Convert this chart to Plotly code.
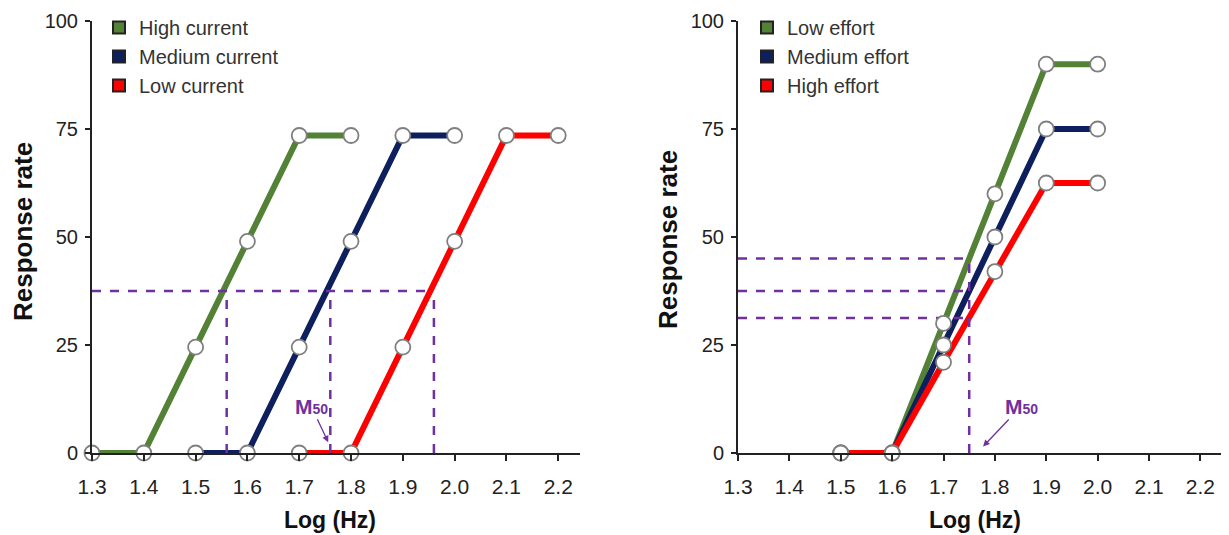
import plotly.graph_objects as go

# ---------------- data ----------------
x_ticks = [1.3, 1.4, 1.5, 1.6, 1.7, 1.8, 1.9, 2.0, 2.1, 2.2]
y_ticks = [0, 25, 50, 75, 100]

left_names = ["High current", "Medium current", "Low current"]
left_x = [
    [1.3, 1.4, 1.5, 1.6, 1.7, 1.8],
    [1.5, 1.6, 1.7, 1.8, 1.9, 2.0],
    [1.7, 1.8, 1.9, 2.0, 2.1, 2.2],
]
left_y = [
    [0, 0, 24.5, 49, 73.5, 73.5],
    [0, 0, 24.5, 49, 73.5, 73.5],
    [0, 0, 24.5, 49, 73.5, 73.5],
]
left_m50_x = [1.56, 1.76, 1.96]
left_m50_y = 37.5

right_names = ["Low effort", "Medium effort", "High effort"]
right_x = [
    [1.5, 1.6, 1.7, 1.8, 1.9, 2.0],
    [1.5, 1.6, 1.7, 1.8, 1.9, 2.0],
    [1.5, 1.6, 1.7, 1.8, 1.9, 2.0],
]
right_y = [
    [0, 0, 30, 60, 90, 90],
    [0, 0, 25, 50, 75, 75],
    [0, 0, 21, 42, 62.5, 62.5],
]
right_m50_x = 1.75
right_m50_y = [45, 37.5, 31.25]

colors = ["#538135", "#0d1f5c", "#ff0000"]
purple = "#7030a0"
axis_col = "#222222"
FONT = "Liberation Sans, Arial, sans-serif"

fig = go.Figure()

def add_panel(xs, ys, names, xa, ya, legend):
    for xv, yv, c in zip(xs, ys, colors):
        fig.add_trace(go.Scatter(x=xv, y=yv, mode="lines", line=dict(color=c, width=6),
                                 showlegend=False, xaxis=xa, yaxis=ya, cliponaxis=False,
                                 hoverinfo="skip"))
    for n, c in zip(names, colors):
        fig.add_trace(go.Scatter(x=[None], y=[None], mode="markers", name=n,
                                 marker=dict(symbol="square", size=14, color=c,
                                             line=dict(color="#222222", width=1.5)),
                                 xaxis=xa, yaxis=ya, legend=legend, legendgroup=legend + n))

def add_markers(xs, ys, xa, ya):
    for xv, yv in zip(xs, ys):
        fig.add_trace(go.Scatter(x=xv, y=yv, mode="markers",
                                 marker=dict(size=15, color="white",
                                             line=dict(color="#7f7f7f", width=1.8)),
                                 showlegend=False, xaxis=xa, yaxis=ya, cliponaxis=False))

dash = dict(color=purple, width=2.5, dash="dash")

# left panel
add_panel(left_x, left_y, left_names, "x", "y", "legend")
fig.add_trace(go.Scatter(x=[x_ticks[0], max(left_m50_x)], y=[left_m50_y, left_m50_y], mode="lines",
                         line=dash, showlegend=False, xaxis="x", yaxis="y", cliponaxis=False))
for mx in left_m50_x:
    fig.add_trace(go.Scatter(x=[mx, mx], y=[0, left_m50_y], mode="lines", line=dash,
                             showlegend=False, xaxis="x", yaxis="y", cliponaxis=False))
add_markers(left_x, left_y, "x", "y")

# right panel
add_panel(right_x, right_y, right_names, "x2", "y2", "legend2")
for my in right_m50_y:
    fig.add_trace(go.Scatter(x=[x_ticks[0], right_m50_x], y=[my, my], mode="lines", line=dash,
                             showlegend=False, xaxis="x2", yaxis="y2", cliponaxis=False))
fig.add_trace(go.Scatter(x=[right_m50_x, right_m50_x], y=[0, max(right_m50_y)], mode="lines",
                         line=dash, showlegend=False, xaxis="x2", yaxis="y2", cliponaxis=False))
add_markers(right_x, right_y, "x2", "y2")

OFF = 8  # page body margin
W, H = 1229 - OFF, 535 - OFF

def px(v):
    return (v - OFF) / W

def py(v):
    return 1 - (v - OFF) / H

top_px, bot_px = 21, 453

def xaxis_cfg(d0, d1, anchor):
    return dict(domain=[px(d0), px(d1)], range=[1.3, 2.242], tickvals=x_ticks,
                ticktext=[f"{v:.1f}" for v in x_ticks], showgrid=False, zeroline=False,
                showline=True, linecolor=axis_col, linewidth=2, ticks="outside",
                ticklen=6, tickwidth=2, tickcolor=axis_col, anchor=anchor,
                ticklabelstandoff=8, ticklabeloverflow="allow",
                tickfont=dict(family=FONT, size=21, color=axis_col), automargin=False)

def yaxis_cfg(anchor):
    return dict(domain=[py(bot_px), py(top_px)], range=[0, 100], tickvals=y_ticks,
                showgrid=False, zeroline=False, showline=True, linecolor=axis_col,
                linewidth=2, ticks="outside", ticklen=5, tickwidth=2, tickcolor=axis_col,
                ticklabelstandoff=3, ticklabeloverflow="allow",
                tickfont=dict(family=FONT, size=20, color=axis_col), anchor=anchor,
                automargin=False)

leg_common = dict(font=dict(family=FONT, size=20, color="#333333"), bgcolor="rgba(0,0,0,0)",
                  tracegroupgap=0, itemsizing="constant", xanchor="left", yanchor="top",
                  y=1.0)

fig.update_layout(
    width=W, height=H, plot_bgcolor="white", paper_bgcolor="white",
    margin=dict(l=0, r=0, t=0, b=0),
    xaxis=xaxis_cfg(92, 580, "y"), yaxis=yaxis_cfg("x"),
    xaxis2=xaxis_cfg(738, 1222, "y2"), yaxis2=yaxis_cfg("x2"),
    legend=dict(x=px(99), **leg_common),
    legend2=dict(x=px(747), **leg_common),
    showlegend=True,
)

ann = [
    dict(text="<b>Response rate</b>", x=px(23), y=py(232), xref="paper", yref="paper",
         xanchor="center", yanchor="middle",
         textangle=-90, showarrow=False, font=dict(family=FONT, size=26, color="#111111")),
    dict(text="<b>Response rate</b>", x=px(668), y=py(240), xref="paper", yref="paper",
         xanchor="center", yanchor="middle",
         textangle=-90, showarrow=False, font=dict(family=FONT, size=26, color="#111111")),
    dict(text="<b>Log (Hz)</b>", x=px(330), y=py(520), xref="paper", yref="paper",
         xanchor="center", yanchor="middle",
         showarrow=False, font=dict(family=FONT, size=23, color="#111111")),
    dict(text="<b>Log (Hz)</b>", x=px(975), y=py(520), xref="paper", yref="paper",
         xanchor="center", yanchor="middle",
         showarrow=False, font=dict(family=FONT, size=23, color="#111111")),
    dict(text="<b>M<span style='font-size:14px'>50</span></b>", x=1.756, y=2.5, xref="x", yref="y",
         ax=-17, ay=-36, showarrow=True, arrowhead=2, arrowsize=1, arrowwidth=1.3,
         arrowcolor=purple, font=dict(family=FONT, size=21, color=purple)),
    dict(text="<b>M<span style='font-size:14px'>50</span></b>", x=1.777, y=1.5, xref="x2", yref="y2",
         ax=38, ay=-40, showarrow=True, arrowhead=2, arrowsize=1, arrowwidth=1.3,
         arrowcolor=purple, font=dict(family=FONT, size=21, color=purple)),
]
fig.update_layout(annotations=ann)

fig.write_html("out.html")
